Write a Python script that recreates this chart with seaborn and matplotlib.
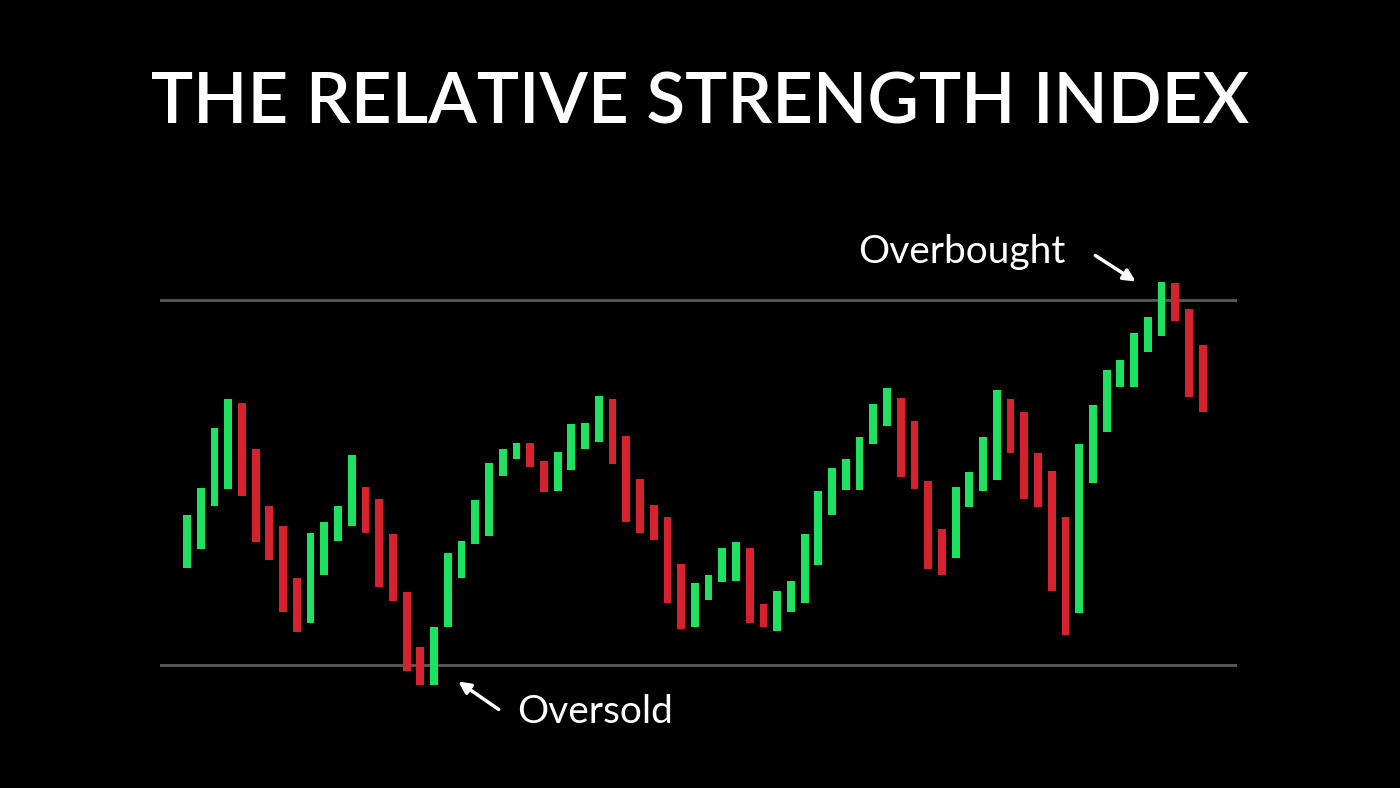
import numpy as np
import matplotlib
matplotlib.use("Agg")
import matplotlib.pyplot as plt
import seaborn as sns

# RSI bar ranges (high / low)
highs = [46.4, 49.4, 56.0, 59.2, 58.7, 53.7, 47.4, 45.2, 39.5, 44.5,
         45.7, 47.4, 53.0, 49.5, 48.2, 44.4, 38.0, 32.0, 34.1, 42.3,
         43.6, 48.1, 52.1, 53.7, 54.3, 54.3, 52.4, 53.3, 56.4, 56.5,
         59.5, 59.2, 55.1, 50.4, 47.5, 46.2, 41.1, 39.0, 39.9, 42.8,
         43.5, 42.8, 36.7, 38.1, 39.2, 44.4, 49.1, 51.6, 52.6, 55.0,
         58.6, 60.4, 59.3, 56.7, 50.2, 44.9, 49.5, 51.2, 55.0, 60.1,
         59.2, 57.7, 53.2, 51.3, 46.2, 54.2, 58.5, 62.3, 63.4, 66.4,
         68.1, 72.0, 71.9, 69.0, 65.1]
lows = [40.6, 42.7, 47.4, 49.3, 48.5, 43.5, 41.5, 35.8, 33.6, 34.6,
        39.8, 43.6, 45.2, 44.5, 38.5, 37.0, 29.3, 27.8, 27.8, 34.1,
        39.5, 43.2, 44.1, 50.7, 52.6, 51.7, 49.0, 49.1, 51.4, 53.7,
        54.4, 52.0, 45.7, 44.5, 43.7, 36.8, 33.9, 34.1, 37.1, 39.1,
        39.2, 34.6, 34.1, 33.7, 35.8, 36.8, 41.0, 46.4, 49.2, 49.2,
        54.2, 56.2, 50.6, 49.3, 40.5, 39.9, 41.7, 47.3, 49.1, 50.3,
        53.2, 48.2, 47.3, 38.1, 33.3, 35.7, 49.9, 55.5, 60.5, 60.5,
        64.3, 66.1, 67.7, 59.4, 57.7]
# G = rising bar, R = falling bar
direction = ("GGGG" "RRRRR" "GGGG" "RRRRR" "GGGGGGG" "RR" "GGGG" "RRRRRR"
             "GGGG" "RR" "GGGGGGGGG" "RRRR" "GGGG" "RRRRR" "GGGGGGG" "RRR")
overbought = 70
oversold = 30

GREEN = "#1de25f"
RED = "#d6212f"

sns.set_style("dark", {"axes.facecolor": "black", "figure.facecolor": "black"})
plt.rcParams["font.family"] = ["Lato", "DejaVu Sans"]

fig = plt.figure(figsize=(14, 7.88), dpi=100)
ax = fig.add_axes([160 / 1400, 0, 1077 / 1400, 1])
ax.set_facecolor("black")

x = np.arange(len(highs))
colors = [GREEN if c == "G" else RED for c in direction]
heights = np.array(highs) - np.array(lows)
ax.bar(x, heights, bottom=lows, width=0.57, color=colors, edgecolor="none",
       linewidth=0, zorder=2)

ax.axhline(overbought, color="#5a5a5a", lw=2, zorder=1)
ax.axhline(oversold, color="#5a5a5a", lw=2, zorder=1)

ax.set_xlim(-1.97, 76.5)
ax.set_ylim(16.5, 102.9)
ax.axis("off")

fig.text(0.5, 1 - 103 / 788, "THE RELATIVE STRENGTH INDEX", color="white",
         fontsize=51, fontweight="semibold", ha="center", va="center")

def px(xp, yp):
    return (xp / 1400, 1 - yp / 788)

fig.text(*px(858, 252), "Overbought", color="white", fontsize=28,
         ha="left", va="center")
fig.text(*px(517, 712), "Oversold", color="white", fontsize=28,
         ha="left", va="center")
ax.annotate("", xy=px(1138, 283), xytext=px(1093, 254), xycoords="figure fraction",
            textcoords="figure fraction",
            arrowprops=dict(arrowstyle="-|>,head_width=0.35,head_length=0.7", color="white", lw=2.5))
ax.annotate("", xy=px(456, 680), xytext=px(501, 711), xycoords="figure fraction",
            textcoords="figure fraction",
            arrowprops=dict(arrowstyle="-|>,head_width=0.35,head_length=0.7", color="white", lw=2.5))

fig.savefig("out.png", dpi=100, facecolor="black")
